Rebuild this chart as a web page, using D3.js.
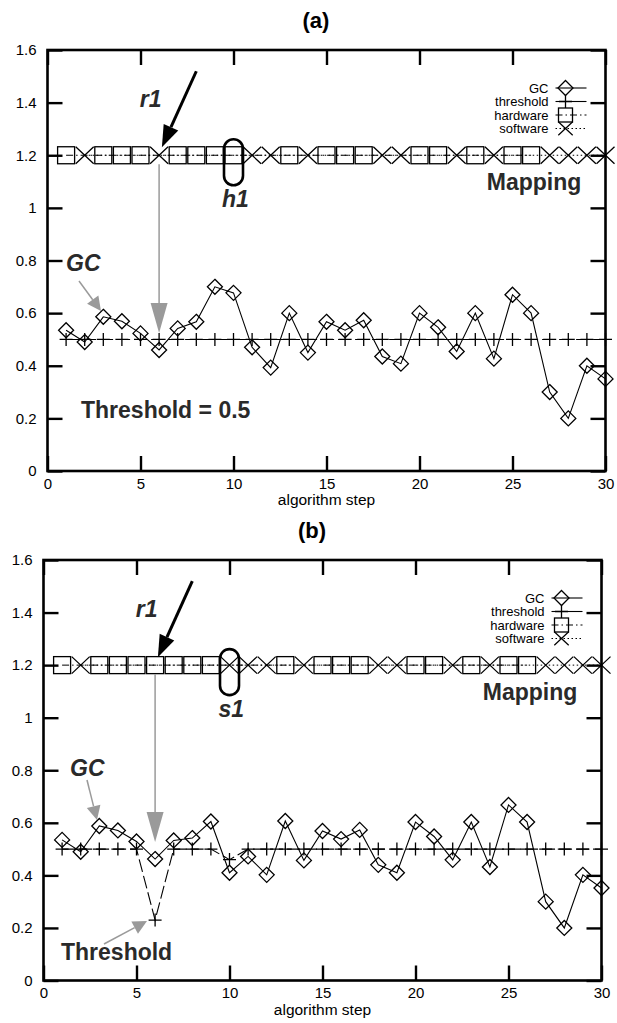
<!DOCTYPE html>
<html>
<head>
<meta charset="utf-8">
<script src="https://cdn.jsdelivr.net/npm/d3@7"></script>
<style>
  body { margin: 0; background: #fff; }
  svg { display: block; font-family: "Liberation Sans", Arial, Helvetica, sans-serif; }
</style>
</head>
<body>
<svg id="chart" width="617" height="1023"></svg>
<script>
// ---- data ----
const steps = [1, 2, 3, 4, 5, 6, 7, 8, 9, 10, 11, 12, 13, 14, 15,
               16, 17, 18, 19, 20, 21, 22, 23, 24, 25, 26, 27, 28, 29, 30];

const gcA = [0.535, 0.49, 0.586, 0.569, 0.523, 0.46, 0.542, 0.567, 0.70, 0.677,
             0.47, 0.393, 0.60, 0.45, 0.567, 0.535, 0.573, 0.435, 0.408, 0.60,
             0.546, 0.454, 0.60, 0.427, 0.67, 0.60, 0.30, 0.20, 0.40, 0.35];
const gcB = [0.535, 0.49, 0.588, 0.571, 0.529, 0.462, 0.533, 0.542, 0.605, 0.41,
             0.472, 0.402, 0.607, 0.457, 0.569, 0.538, 0.573, 0.44, 0.41, 0.603,
             0.548, 0.459, 0.603, 0.432, 0.668, 0.603, 0.30, 0.20, 0.402, 0.352];

const thresholdA = [0.5, 0.5, 0.5, 0.5, 0.5, 0.5, 0.5, 0.5, 0.5, 0.5,
                    0.5, 0.5, 0.5, 0.5, 0.5, 0.5, 0.5, 0.5, 0.5, 0.5,
                    0.5, 0.5, 0.5, 0.5, 0.5, 0.5, 0.5, 0.5, 0.5, 0.5];
const thresholdB = [0.5, 0.5, 0.5, 0.5, 0.5, 0.23, 0.5, 0.5, 0.5, 0.46,
                    0.5, 0.5, 0.5, 0.5, 0.5, 0.5, 0.5, 0.5, 0.5, 0.5,
                    0.5, 0.5, 0.5, 0.5, 0.5, 0.5, 0.5, 0.5, 0.5, 0.5];

// hw = hardware, sw = software (plotted at mappingLevel)
const mappingA = ["hw", "sw", "hw", "hw", "hw", "sw", "hw", "hw", "hw", "hw",
                  "sw", "sw", "hw", "sw", "hw", "hw", "hw", "sw", "sw", "hw",
                  "hw", "sw", "hw", "sw", "hw", "hw", "sw", "sw", "sw", "sw"];
const mappingB = ["hw", "sw", "hw", "hw", "hw", "hw", "hw", "hw", "hw", "sw",
                  "sw", "sw", "hw", "sw", "hw", "hw", "hw", "sw", "sw", "hw",
                  "hw", "sw", "hw", "sw", "hw", "hw", "sw", "sw", "sw", "sw"];
const mappingLevel = 1.2;

const xTicks = [0, 5, 10, 15, 20, 25, 30];
const xTickLabels = ["0", "5", "10", "15", "20", "25", "30"];
const yTicks = [0, 0.2, 0.4, 0.6, 0.8, 1, 1.2, 1.4, 1.6];
const yTickLabels = ["0", "0.2", "0.4", "0.6", "0.8", "1", "1.2", "1.4", "1.6"];
const legendLabels = ["GC", "threshold", "hardware", "software"];
const xLabel = "algorithm step";

const svg = d3.select("#chart");
const gray = "#9a9a9a";
const ink = "#2a2a2a";

// marker shapes
const diamond = "M0,-7.5L7.5,0L0,7.5L-7.5,0Z";
const cross = "M-6.5,0H6.5M0,-6.5V6.5";
const xmark = "M-9,-8.5L9,8.5M-9,8.5L9,-8.5";

function arrow(g, x1, y1, x2, y2, color, width, headLen, headHalf) {
  const a = Math.atan2(y2 - y1, x2 - x1);
  const bx = x2 - headLen * Math.cos(a), by = y2 - headLen * Math.sin(a);
  g.append("line")
    .attr("x1", x1).attr("y1", y1).attr("x2", bx).attr("y2", by)
    .attr("stroke", color).attr("stroke-width", width);
  const px = -Math.sin(a) * headHalf, py = Math.cos(a) * headHalf;
  g.append("path")
    .attr("d", `M${x2},${y2}L${bx + px},${by + py}L${bx - px},${by - py}Z`)
    .attr("fill", color);
}

function styleAxis(sel) {
  sel.select(".domain").remove();
  sel.selectAll(".tick line").attr("stroke", "#000").attr("stroke-width", 2.4);
  sel.selectAll(".tick text").attr("font-size", 15).attr("fill", "#000");
}

function drawPanel(cfg) {
  const x = d3.scaleLinear().domain([0, 30]).range([cfg.left, cfg.right]);
  const y = d3.scaleLinear().domain([0, 1.6]).range([cfg.bottom, cfg.top]);
  const g = svg.append("g");
  const tickLen = 15;

  // title
  g.append("text")
    .attr("x", cfg.titleX).attr("y", cfg.top - 22)
    .attr("text-anchor", "middle")
    .attr("font-size", 22).attr("font-weight", "bold")
    .text(cfg.title);

  // axes, ticks inward on all four sides
  g.append("g")
    .attr("transform", `translate(0,${cfg.bottom})`)
    .call(d3.axisBottom(x).tickValues(xTicks).tickFormat((d, i) => xTickLabels[i])
      .tickSize(-tickLen).tickPadding(7))
    .call(styleAxis);
  g.append("g")
    .attr("transform", `translate(0,${cfg.top})`)
    .call(d3.axisTop(x).tickValues(xTicks).tickFormat("").tickSize(-tickLen))
    .call(styleAxis);
  g.append("g")
    .attr("transform", `translate(${cfg.left},0)`)
    .call(d3.axisLeft(y).tickValues(yTicks).tickFormat((d, i) => yTickLabels[i])
      .tickSize(-tickLen).tickPadding(11))
    .call(styleAxis);
  g.append("g")
    .attr("transform", `translate(${cfg.right},0)`)
    .call(d3.axisRight(y).tickValues(yTicks).tickFormat("").tickSize(-tickLen))
    .call(styleAxis);

  g.append("rect")
    .attr("x", cfg.left).attr("y", cfg.top)
    .attr("width", cfg.right - cfg.left).attr("height", cfg.bottom - cfg.top)
    .attr("fill", "none").attr("stroke", "#000").attr("stroke-width", 2.6);

  g.append("text")
    .attr("x", (cfg.left + cfg.right) / 2).attr("y", cfg.bottom + 34)
    .attr("text-anchor", "middle").attr("font-size", 15.5)
    .text(xLabel);

  // mapping rows
  const hw = steps.filter((s, i) => cfg.mapping[i] === "hw");
  const sw = steps.filter((s, i) => cfg.mapping[i] === "sw");
  const rowLine = d3.line().x(d => x(d)).y(() => y(mappingLevel));
  g.append("path").attr("d", rowLine(hw))
    .attr("fill", "none").attr("stroke", "#000").attr("stroke-width", 1)
    .attr("stroke-dasharray", "7,3,1.5,3");
  g.append("path").attr("d", rowLine(sw))
    .attr("fill", "none").attr("stroke", "#000").attr("stroke-width", 1)
    .attr("stroke-dasharray", "1.5,2.5");
  g.selectAll(".hw").data(hw).join("rect")
    .attr("x", d => x(d) - 8.5).attr("y", y(mappingLevel) - 8.5)
    .attr("width", 17).attr("height", 17)
    .attr("fill", "none").attr("stroke", "#000").attr("stroke-width", 1.3);
  g.selectAll(".sw").data(sw).join("path")
    .attr("transform", d => `translate(${x(d)},${y(mappingLevel)})`)
    .attr("d", xmark)
    .attr("fill", "none").attr("stroke", "#000").attr("stroke-width", 1.3);

  // threshold
  const line = d3.line().x((d, i) => x(steps[i])).y(d => y(d));
  g.append("path").attr("d", line(cfg.threshold))
    .attr("fill", "none").attr("stroke", "#000").attr("stroke-width", 1.1)
    .attr("stroke-dasharray", "13,4");
  g.selectAll(".th").data(cfg.threshold).join("path")
    .attr("transform", (d, i) => `translate(${x(steps[i])},${y(d)})`)
    .attr("d", cross)
    .attr("fill", "none").attr("stroke", "#000").attr("stroke-width", 1.3);

  // GC
  g.append("path").attr("d", line(cfg.gc))
    .attr("fill", "none").attr("stroke", "#000").attr("stroke-width", 1.1);
  g.selectAll(".gc").data(cfg.gc).join("path")
    .attr("transform", (d, i) => `translate(${x(steps[i])},${y(d)})`)
    .attr("d", diamond)
    .attr("fill", "none").attr("stroke", "#000").attr("stroke-width", 1.3);

  // legend
  const lx = cfg.right - 57, sx1 = cfg.right - 50, sx2 = cfg.right - 19, mx = cfg.right - 40;
  legendLabels.forEach((lab, i) => {
    const ly = cfg.top + 38 + i * 13.5;
    g.append("text").attr("x", lx).attr("y", ly + 4.5)
      .attr("text-anchor", "end").attr("font-size", 13).text(lab);
    const sample = g.append("line")
      .attr("x1", sx1).attr("x2", sx2).attr("y1", ly).attr("y2", ly)
      .attr("stroke", "#000").attr("stroke-width", 1.1);
    if (i === 2) sample.attr("stroke-dasharray", "7,3,1.5,3");
    if (i === 3) sample.attr("stroke-dasharray", "1.5,2.5");
    if (i === 0) g.append("path").attr("transform", `translate(${mx},${ly})`).attr("d", diamond)
      .attr("fill", "none").attr("stroke", "#000").attr("stroke-width", 1.3);
    if (i === 1) g.append("path").attr("transform", `translate(${mx},${ly})`).attr("d", cross)
      .attr("fill", "none").attr("stroke", "#000").attr("stroke-width", 1.3);
    if (i === 2) g.append("rect").attr("x", mx - 7).attr("y", ly - 7).attr("width", 14).attr("height", 14)
      .attr("fill", "none").attr("stroke", "#000").attr("stroke-width", 1.3);
    if (i === 3) g.append("path").attr("transform", `translate(${mx},${ly}) scale(0.8)`).attr("d", xmark)
      .attr("fill", "none").attr("stroke", "#000").attr("stroke-width", 1.5);
  });

  // annotations
  const rowY = y(mappingLevel);
  const bold = (t, px, py, anchor, italic) => g.append("text")
    .attr("x", px).attr("y", py).attr("text-anchor", anchor)
    .attr("font-size", 23).attr("font-weight", "bold")
    .attr("font-style", italic ? "italic" : "normal")
    .attr("fill", ink).text(t);

  bold("r1", x(5.55), rowY - 48, "middle", true);
  arrow(g, x(8.0), rowY - 84, x(6.15), rowY - 8, "#000", 3, 22, 8);

  g.append("rect")
    .attr("x", x(10) - 9.5).attr("y", rowY - 16)
    .attr("width", 19).attr("height", 46).attr("rx", 9.5)
    .attr("fill", "none").attr("stroke", "#000").attr("stroke-width", 2.6);
  bold(cfg.ovalLabel, x(10.1), rowY + 52, "middle", true);
  bold("Mapping", x(28.7), rowY + 35, "end", false);

  bold("GC", cfg.gcText[0], cfg.gcText[1], "start", true);
  arrow(g, cfg.gcArrow[0], cfg.gcArrow[1], cfg.gcArrow[2], cfg.gcArrow[3], gray, 1.5, 14, 7);

  arrow(g, x(6), rowY + 9, x(6), y(cfg.gc[5]) - 17, gray, 1.5, 30, 8.5);

  bold(cfg.thText, cfg.thPos[0], cfg.thPos[1], "start", false);
  if (cfg.thArrow) arrow(g, cfg.thArrow[0], cfg.thArrow[1], cfg.thArrow[2], cfg.thArrow[3], gray, 1.5, 14, 7);
}

drawPanel({
  title: "(a)", titleX: 316, left: 47.5, right: 605.5, top: 50, bottom: 471,
  gc: gcA, threshold: thresholdA, mapping: mappingA, ovalLabel: "h1",
  gcText: [66, 271], gcArrow: [79, 281, 101, 311],
  thText: "Threshold = 0.5", thPos: [81, 418], thArrow: null
});
drawPanel({
  title: "(b)", titleX: 312, left: 43.5, right: 601.5, top: 560, bottom: 980.5,
  gc: gcB, threshold: thresholdB, mapping: mappingB, ovalLabel: "s1",
  gcText: [70, 776], gcArrow: [87, 780, 97, 820],
  thText: "Threshold", thPos: [61, 960], thArrow: [104, 944, 147, 921]
});
</script>
</body>
</html>
